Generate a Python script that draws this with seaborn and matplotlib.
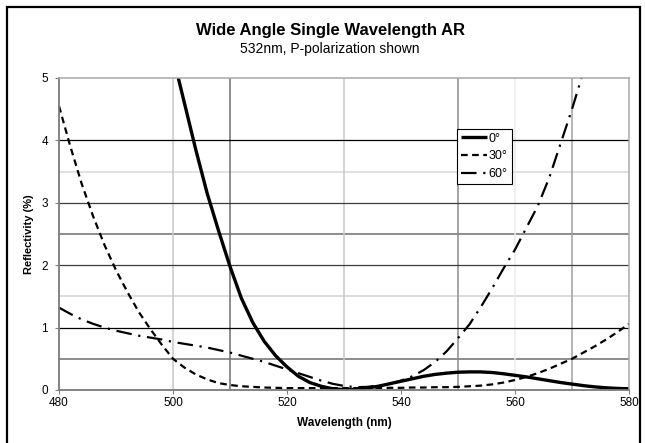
import numpy as np
import pandas as pd
import matplotlib
matplotlib.use("Agg")
import matplotlib.pyplot as plt
import seaborn as sns
from matplotlib.patches import Rectangle

# ---- data ----
wavelength = list(range(480, 582, 2))
r_0deg = [np.nan]*9 + [6.1, 5.35, 4.6, 3.85, 3.15, 2.55, 1.98, 1.47, 1.08, 0.78, 0.55,
          0.37, 0.22, 0.12, 0.06, 0.02, 0.005, 0.01, 0.03, 0.06, 0.10,
          0.14, 0.18, 0.22, 0.25, 0.27, 0.285, 0.29, 0.29, 0.28, 0.26,
          0.235, 0.21, 0.18, 0.15, 0.12, 0.095, 0.07, 0.05, 0.035, 0.025, 0.02]
r_30deg = [4.55, 3.9, 3.3, 2.78, 2.32, 1.92, 1.57, 1.25, 0.98, 0.73,
           0.5, 0.36, 0.25, 0.17, 0.11, 0.08, 0.06, 0.05, 0.04, 0.035,
           0.03, 0.03, 0.03, 0.03, 0.03, 0.03, 0.03, 0.03, 0.03, 0.035,
           0.035, 0.04, 0.04, 0.045, 0.045, 0.05, 0.06, 0.07, 0.09, 0.12,
           0.16, 0.21, 0.27, 0.34, 0.42, 0.5, 0.6, 0.7, 0.81, 0.93, 1.06]
r_60deg = [1.32, 1.22, 1.13, 1.06, 1.0, 0.95, 0.91, 0.87, 0.84, 0.81,
           0.77, 0.74, 0.71, 0.68, 0.64, 0.6, 0.55, 0.5, 0.45, 0.39,
           0.33, 0.27, 0.21, 0.15, 0.1, 0.065, 0.045, 0.05, 0.07, 0.1,
           0.15, 0.22, 0.32, 0.45, 0.62, 0.83, 1.05, 1.33, 1.63, 1.95,
           2.25, 2.6, 2.95, 3.4, 3.95, 4.5, 5.1, 5.7, np.nan, np.nan, np.nan]
labels = ["0°", "30°", "60°"]

title = "Wide Angle Single Wavelength AR"
subtitle = "532nm, P-polarization shown"
xlabel = "Wavelength (nm)"
ylabel = "Reflectivity (%)"
xticks = [480, 500, 520, 540, 560, 580]
yticks = [0, 1, 2, 3, 4, 5]

# ---- style ----
sns.set_theme(style="white")
plt.rcParams['font.family'] = ['Liberation Sans', 'DejaVu Sans']
plt.rcParams['text.color'] = 'black'
plt.rcParams['axes.labelcolor'] = 'black'
plt.rcParams['xtick.color'] = 'black'
plt.rcParams['ytick.color'] = 'black'

W, H = 645, 443
fig = plt.figure(figsize=(W/100, H/100), dpi=100)
ax = fig.add_axes([59/W, 1-390/H, (629-59)/W, (390-78)/H])

# grid lines (varying greys as in the reference)
half_lines = {0.5: "#8c8c8c", 1.5: "#d4d4d4", 2.5: "#8c8c8c", 3.5: "#dcdcdc"}
int_lines = {1: "#000000", 2: "#3c3c3c", 3: "#3c3c3c", 4: "#000000"}
for yv, c in half_lines.items():
    ax.axhline(yv, color=c, lw=1.4 if c == "#8c8c8c" else 1.2, zorder=0.5)
for yv, c in int_lines.items():
    ax.axhline(yv, color=c, lw=0.9, zorder=0.6)
vlines = {500: "#c8c8c8", 510: "#6e6e6e", 530: "#c8c8c8", 550: "#8c8c8c",
          560: "#ececec", 570: "#a0a0a0"}
for xv, c in vlines.items():
    ax.axvline(xv, color=c, lw=1.1, zorder=0.5)

df = pd.DataFrame({"wl": wavelength, "r0": r_0deg, "r30": r_30deg, "r60": r_60deg})
sns.lineplot(data=df, x="wl", y="r0", ax=ax, color="black", lw=2.4,
             label=labels[0], solid_capstyle="butt")
sns.lineplot(data=df, x="wl", y="r30", ax=ax, color="black", lw=1.6,
             linestyle=(0, (3, 2)), label=labels[1])
sns.lineplot(data=df, x="wl", y="r60", ax=ax, color="black", lw=1.6,
             linestyle=(0, (7, 3, 1, 3)), label=labels[2])

ax.set_xlim(480, 580)
ax.set_ylim(0, 5)
ax.set_xticks(xticks)
ax.set_yticks(yticks)
ax.tick_params(axis="both", labelsize=8.5, length=3, width=0.8, color="#808080",
               labelcolor="black", direction="out", pad=2, left=True, bottom=True)
ax.tick_params(axis="y", pad=5)
for s in ["left", "bottom"]:
    ax.spines[s].set_color("#7a7a7a")
    ax.spines[s].set_linewidth(1.3)
for s in ["top", "right"]:
    ax.spines[s].set_color("#a8a8a8")
    ax.spines[s].set_linewidth(1.1)

ax.set_xlabel(xlabel, fontsize=8.5, fontweight="bold", labelpad=6, color="black")
ax.set_ylabel(ylabel, fontsize=8, fontweight="bold", labelpad=5, color="black")

fig.text(330/W, 1-31/H, title, ha="center", va="center", fontsize=12,
         fontweight="bold", color="black")
fig.text(330/W, 1-49/H, subtitle, ha="center", va="center", fontsize=10,
         color="black")

leg = ax.legend(loc="upper left", bbox_to_anchor=(457/W, 1-129/H),
                bbox_transform=fig.transFigure, frameon=True, fancybox=False,
                edgecolor="black", prop={"size": 9}, handlelength=2.1,
                handletextpad=0.15, borderpad=0.3, labelspacing=0.45,
                borderaxespad=0)
leg.get_frame().set_linewidth(0.8)
leg.get_frame().set_facecolor("white")
leg.get_frame().set_alpha(1)
for t in leg.get_texts():
    t.set_color("black")

# outer border of the chart
fig.patches.append(Rectangle((7/W, -0.05), (640-7)/W, 1-7/H+0.05,
                             transform=fig.transFigure, fill=False,
                             edgecolor="black", lw=1.6))

fig.savefig("out.png", dpi=100)
